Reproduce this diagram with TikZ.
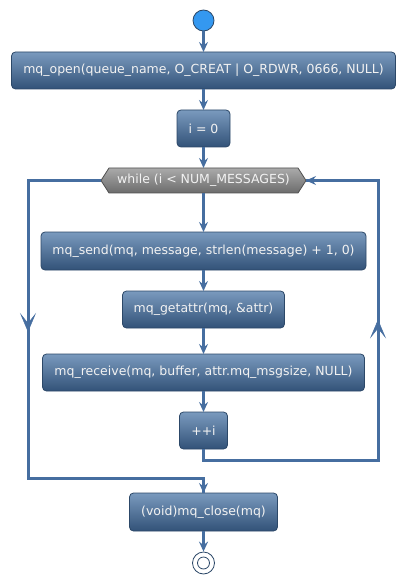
\documentclass[tikz,border=0pt]{standalone}
\usepackage{fontspec}
\setmainfont{DejaVu Sans}
\usetikzlibrary{arrows.meta,decorations.markings,backgrounds}
\definecolor{boxtop}{RGB}{122,154,190}
\definecolor{boxbot}{RGB}{50,82,120}
\definecolor{boxline}{RGB}{44,72,104}
\definecolor{flowc}{RGB}{70,110,160}
\definecolor{hextop}{RGB}{170,170,170}
\definecolor{hexbot}{RGB}{108,108,108}
\definecolor{hexline}{RGB}{80,80,80}
\definecolor{startc}{RGB}{52,152,240}
\definecolor{txt}{RGB}{242,242,242}
\tikzset{
  act/.style={draw=boxline, line width=0.8pt, rounded corners=4pt, top color=boxtop, bottom color=boxbot,
    text=txt, font=\fontsize{12.5}{14}\selectfont, minimum height=37pt, inner sep=0pt, outer sep=0pt},
  flow/.style={draw=flowc, line width=2.6pt, -{Stealth[length=10pt,width=9pt,inset=3.5pt]}},
  loopline/.style={draw=flowc, line width=3pt},
  midtip/.style={postaction={decorate}, decoration={markings, mark=at position #1 with {\arrow[flowc, line width=0.5pt]{Stealth[length=19pt,width=16pt,inset=10pt]}}}},
  hextext/.style={text=txt, font=\fontsize{12.5}{14}\selectfont, minimum width=205pt, minimum height=25pt, inner sep=0pt, outer sep=0pt},
}
\begin{document}
\begin{tikzpicture}[x=1pt,y=-1pt]
\useasboundingbox (0,0) rectangle (406,585);
\node[circle, draw=boxline, line width=0.8pt, fill=startc, minimum size=21pt, inner sep=0pt] (start) at (203.5,20.5) {};
\node[act, minimum width=384pt] (open) at (203.5,70.5) {mq\_open(queue\_name, O\_CREAT | O\_RDWR, 0666, NULL)};
\node[act, minimum width=53pt] (i0) at (203.5,128.5) {i = 0};
\node[hextext] (while) at (203.5,180.5) {while (i < NUM\_MESSAGES)};
\begin{pgfonlayer}{background}
\shade[top color=hextop, bottom color=hexbot, draw=hexline, line width=0.8pt]
  (while.west) -- ([xshift=8pt]while.north west) -- ([xshift=-8pt]while.north east) -- (while.east)
  -- ([xshift=-8pt]while.south east) -- ([xshift=8pt]while.south west) -- cycle;
\end{pgfonlayer}
\node[act, minimum width=325pt, minimum height=38pt] (send) at (203.5,251) {mq\_send(mq, message, strlen(message) + 1, 0)};
\node[act, minimum width=162pt] (getattr) at (203.5,309.5) {mq\_getattr(mq, \&attr)};
\node[act, minimum width=322pt] (recv) at (203.5,372.5) {mq\_receive(mq, buffer, attr.mq\_msgsize, NULL)};
\node[act, minimum width=48pt] (inc) at (203.5,430.5) {++i};
\node[act, minimum width=148pt, minimum height=38pt] (close) at (203.5,512) {(void)mq\_close(mq)};
\node[circle, draw=boxline, line width=0.8pt, fill=white, minimum size=22pt, inner sep=0pt] (end) at (203.5,563) {};
\draw[boxline, line width=0.8pt] (end.center) circle (6pt);
\coordinate (lt) at (28,180.5);
\coordinate (lb) at (28,478);
\coordinate (lm) at (203.5,478);
\coordinate (rb0) at (203.5,460);
\coordinate (rb) at (378,460);
\coordinate (rt) at (378,180.5);
\draw[flow] (start) -- (open);
\draw[flow] (open) -- (i0);
\draw[flow] (i0) -- (while);
\draw[flow] (while) -- (send);
\draw[flow] (send) -- (getattr);
\draw[flow] (getattr) -- (recv);
\draw[flow] (recv) -- (inc);
\draw[flow] (close) -- (end);
\draw[loopline, midtip=224.5pt] (while.west) -- (lt) -- (lb) -- (lm) -- (close.north);
\draw[loopline, midtip=326pt] (inc.south) -- (rb0) -- (rb) -- (rt) -- (while.east);
\draw[flow] (lm) -- (close.north);
\draw[flow] (rt) -- (while.east);
\end{tikzpicture}
\end{document}
